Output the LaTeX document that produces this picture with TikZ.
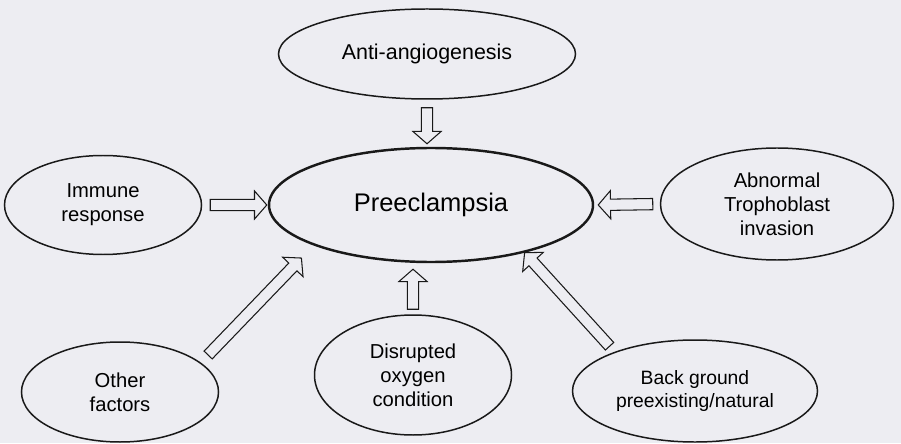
\documentclass[tikz,border=0pt]{standalone}
\usepackage{fontspec}
\setmainfont{Liberation Sans}
\usetikzlibrary{calc, shapes.geometric}
\definecolor{paper}{RGB}{237,237,242}
\definecolor{ink}{RGB}{25,25,25}
\tikzset{cause/.style = {ellipse, draw = ink, line width = 0.85pt, inner sep = 0pt, align = center, font = \fontsize{11.5}{13.6}\selectfont}}
\tikzset{fatarrow/.style = {draw = ink, line width = 0.6pt, line join = miter, to path = {let \p1 = ($(\tikztotarget)-(\tikztostart)$), \n1 = {atan2(\y1,\x1)}, \n2 = {veclen(\x1,\y1)} in ($(\tikztostart)+(\n1+90:3.2pt)$) -- ++(\n1:{\n2-7pt}) -- ++(\n1+90:4.8pt) -- (\tikztotarget) -- ($(\tikztotarget)+(\n1:-7pt)+(\n1-90:8pt)$) -- ++(\n1+90:4.8pt) -- ($(\tikztostart)+(\n1-90:3.2pt)$) -- cycle}}}

\begin{document}
\begin{tikzpicture}
\fill [paper] (0,0) rectangle (18.02,8.86);
\useasboundingbox (0,0) rectangle (18.02,8.86);
\node [cause, line width = 1.4pt, minimum width = 6.48cm, minimum height = 2.28cm, font = \fontsize{14.5}{16}\selectfont] (pre) at (8.62,4.76) {Preeclampsia};
\node [cause, minimum width = 5.94cm, minimum height = 1.8cm, font = \fontsize{12.2}{14}\selectfont] (anti) at (8.54,7.78) {Anti-angiogenesis};
\node [cause, minimum width = 3.94cm, minimum height = 1.98cm] (immune) at (2.06,4.76) {Immune\\response};
\node [cause, minimum width = 4.66cm, minimum height = 2.24cm] (troph) at (15.54,4.78) {Abnormal\\Trophoblast\\invasion};
\node [cause, minimum width = 3.94cm, minimum height = 2.0cm] (other) at (2.40,1.02) {Other\\factors};
\node [cause, minimum width = 3.94cm, minimum height = 2.4cm] (oxygen) at (8.26,1.36) {Disrupted\\oxygen\\condition};
\node [cause, minimum width = 4.9cm, minimum height = 2.04cm, font = \fontsize{11}{13.6}\selectfont] (backgr) at (13.90,1.04) {Back ground\\preexisting/natural};
\draw [fatarrow] ($(anti.south)+(0,-0.16)$) to ($(anti.south |- pre.north)+(0,0.06)$);
\draw [fatarrow] ($(immune.east)!0.16cm!(pre.west)$) to ($(pre.west)!0.02cm!(immune.east)$);
\draw [fatarrow] ($(troph.west)!0.14cm!(pre.east)$) to ($(pre.east)!0.08cm!(troph.west)$);
\draw [fatarrow] ($(other.20)!0.21cm!(pre.199)$) to ($(pre.199)!0.35cm!(other.20)$);
\draw [fatarrow] ($(oxygen.north)+(0,0.1)$) to ($(oxygen.north |- pre.south)+(0,-0.12)$);
\draw [fatarrow] ($(backgr.154)!0.15cm!(pre.333)$) to (pre.333);
\end{tikzpicture}
\end{document}
